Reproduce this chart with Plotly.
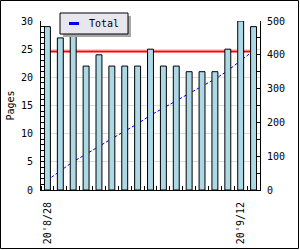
import plotly.graph_objects as go
import numpy as np

days = ["8/28", "8/29", "8/30", "8/31", "9/1", "9/2", "9/3", "9/4", "9/5",
        "9/6", "9/7", "9/8", "9/9", "9/10", "9/11", "9/12", "9/13"]
pages = [29, 27, 28, 22, 24, 22, 22, 22, 25, 22, 22, 21, 21, 21, 25, 30, 29]
target = [24.6]
label_days = ["8/28", "9/12"]
label_text = ["20'8/28", "20'9/12"]
legend_name = "Total"

x = list(range(len(days)))
cum = np.cumsum(pages).tolist()

W, H = 300, 250
L, R, T, B = 41, 40, 21, 60
PW, PH = W - L - R, H - T - B


def px(v):
    return (v - L) / PW


def py(v):
    return (H - B - v) / PH


FONT = "DejaVu Sans Mono"

fig = go.Figure()
fig.add_trace(go.Scatter(x=[x[0], x[-1]], y=[target[0], target[0]], mode="lines",
                         line=dict(color="red", width=2), yaxis="y", showlegend=False,
                         hoverinfo="skip"))
fig.add_trace(go.Scatter(x=x, y=cum, mode="lines", yaxis="y2", showlegend=False, name=legend_name,
                         line=dict(color="blue", width=1, dash="3px,2px")))
fig.add_trace(go.Bar(x=x, y=pages, yaxis="y3", width=0.46, showlegend=False,
                     marker=dict(color="#add8e6", line=dict(color="black", width=1))))

axis_common = dict(color="black", linecolor="black", showline=True, zeroline=False,
                   automargin=False,
                   tickfont=dict(family=FONT, size=10, color="black"))

# legend box (drawn by hand to match the reference's compact legend)
lg_x0, lg_x1, lg_y0, lg_y1 = 60, 128, 13, 34

fig.update_layout(
    width=W, height=H, margin=dict(l=L, r=R, t=T, b=B, pad=0, autoexpand=False),
    paper_bgcolor="white", plot_bgcolor="white",
    font=dict(family=FONT, size=10, color="black"),
    xaxis=dict(range=[-0.5, len(days) - 0.5], tickmode="array",
               tickvals=[days.index(d) for d in label_days], ticktext=label_text,
               tickangle=-90, ticks="", showgrid=False, ticklabelstandoff=7,
               minor=dict(tick0=0.5, dtick=1, ticks="inside", ticklen=4, tickcolor="black"),
               **axis_common),
    yaxis=dict(range=[0, 30], dtick=5, ticks="inside", ticklen=4, tickcolor="black",
               showgrid=True, gridcolor="#dcdcdc", ticklabelstandoff=5,
               minor=dict(dtick=1, ticks="inside", ticklen=4, tickcolor="black", showgrid=False),
               title=dict(text="Pages", font=dict(family=FONT, size=10, color="black"), standoff=4),
               **axis_common),
    yaxis2=dict(range=[0, 500], dtick=100, overlaying="y", side="right", ticks="inside",
                ticklen=4, tickcolor="black", showgrid=False, ticklabelstandoff=4,
                minor=dict(dtick=50, ticks="inside", ticklen=4, tickcolor="black", showgrid=False),
                **axis_common),
    yaxis3=dict(range=[0, 30], overlaying="y", visible=False),
    showlegend=False,
    barmode="overlay",
    shapes=[
        dict(type="rect", xref="paper", yref="paper", x0=px(lg_x0 + 3), x1=px(lg_x1 + 3),
             y0=py(lg_y1 + 3), y1=py(lg_y0 + 3),
             fillcolor="#a8a8a8", line=dict(width=0), layer="above"),
        dict(type="rect", xref="paper", yref="paper", x0=px(lg_x0), x1=px(lg_x1),
             y0=py(lg_y1), y1=py(lg_y0),
             fillcolor="#e9e7ee", line=dict(color="black", width=1), layer="above"),
        dict(type="line", xref="paper", yref="paper", x0=px(69), x1=px(79),
             y0=py(23.5), y1=py(23.5), line=dict(color="blue", width=3), layer="above"),
        dict(type="rect", xref="paper", yref="paper", x0=px(0.5), x1=px(298.5), y0=py(248.5), y1=py(0.5),
             line=dict(color="black", width=1), fillcolor="rgba(0,0,0,0)", layer="above"),
    ],
    annotations=[
        dict(text=legend_name, xref="paper", yref="paper", x=px(87), y=py(23.5),
             xanchor="left", yanchor="middle", showarrow=False,
             font=dict(family=FONT, size=10, color="black")),
    ],
)

fig.write_html("out.html")
